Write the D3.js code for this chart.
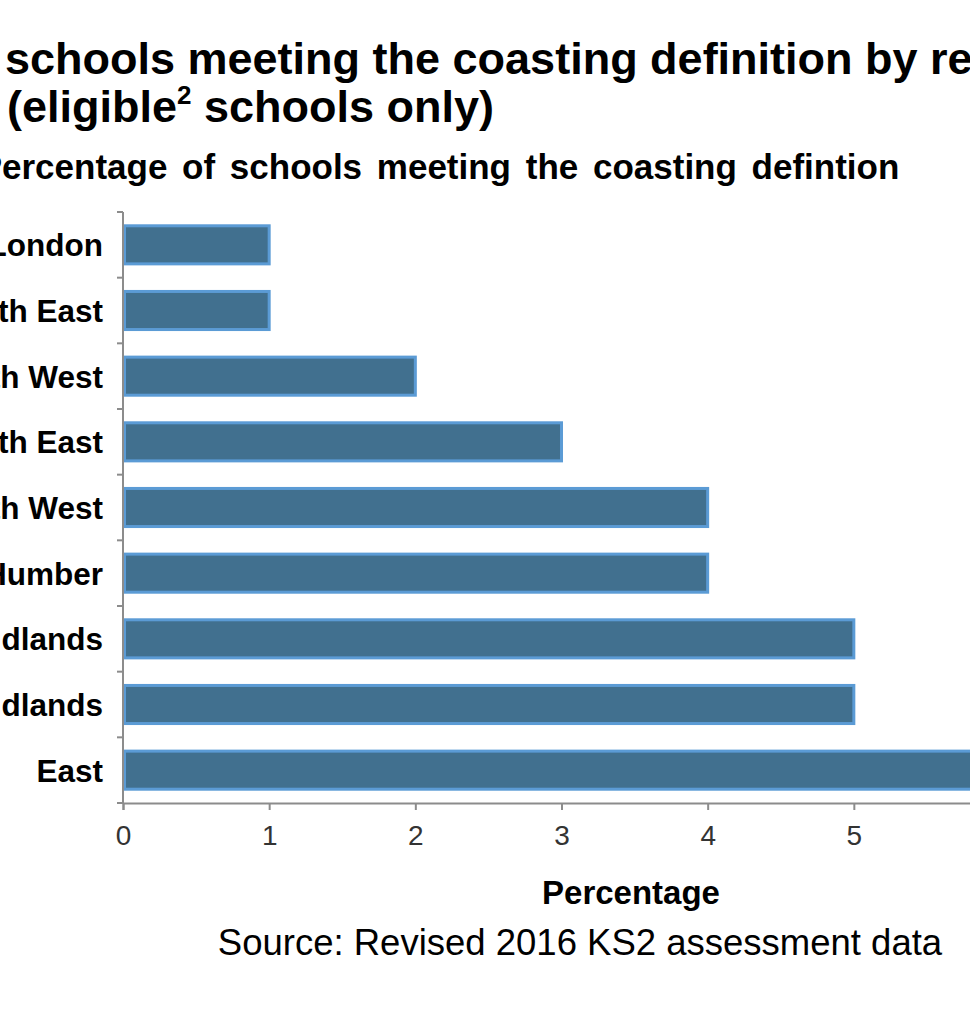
<!DOCTYPE html>
<head>
  <meta charset="utf-8">
  <script src="https://d3js.org/d3.v7.min.js"></script>
  <style>
    body { margin:0; overflow:hidden; background:#fff; }
    svg { display:block; font-family: "Liberation Sans", Arial, sans-serif; }
  </style>
</head>

<body>
  <script type='text/javascript'>
    // regions, top to bottom
    var regions = ["London", "South East", "South West", "North East", "North West",
                   "Yorkshire and the Humber", "West Midlands", "East Midlands", "East"];
    // percentage of schools meeting the coasting definition
    var values = [1, 1, 2, 3, 4, 4, 5, 5, 6];
    var xTicks = [0, 1, 2, 3, 4, 5, 6];

    var width = 970, height = 1024;

    var svg = d3.select('body').append('svg')
      .attr('width', width)
      .attr('height', height);

    // titles (the left and right of the original picture is cut off)
    svg.append('text')
      .attr('x', 5).attr('y', 74)
      .attr('font-size', 45).attr('font-weight', 'bold')
      .text('schools meeting the coasting definition by region');

    var t2 = svg.append('text')
      .attr('x', 7).attr('y', 122)
      .attr('font-size', 45).attr('font-weight', 'bold');
    t2.append('tspan').text('(eligible');
    t2.append('tspan').attr('font-size', 26).attr('dy', -18).text('2');
    t2.append('tspan').attr('dy', 18).text(' schools only)');

    var sub = svg.append('text')
      .attr('y', 179)
      .attr('font-size', 35).attr('font-weight', 'bold')
      .attr('word-spacing', 5)
      .text('Percentage of schools meeting the coasting defintion');
    // push the leading "P" off the left edge
    var pW = sub.node().getSubStringLength(0, 1);
    sub.attr('x', -pW + 2);

    // scales
    var x = d3.scaleLinear()
      .domain([0, 6])
      .range([123, 1000]);

    var y = d3.scaleBand()
      .domain(regions)
      .range([212, 803])
      .paddingInner(0.42)
      .paddingOuter(0.21);

    var step = y.step();

    // bars
    svg.selectAll('rect.bar')
      .data(values).enter().append('rect')
      .attr('class', 'bar')
      .attr('x', x(0) + 1.5)
      .attr('y', (d, i) => y(regions[i]))
      .attr('width', d => x(d) - x(0) - 1.5)
      .attr('height', y.bandwidth())
      .attr('fill', '#41708f')
      .attr('stroke', '#5b9bd5')
      .attr('stroke-width', 3);

    // y axis: line plus ticks between categories
    var yAxis = svg.append('g');
    yAxis.append('line')
      .attr('x1', x(0)).attr('x2', x(0))
      .attr('y1', 212).attr('y2', 803)
      .attr('stroke', '#8c8c8c').attr('stroke-width', 2);
    var bounds = regions.map(r => y(r) - (step - y.bandwidth()) / 2).concat([803]);
    yAxis.selectAll('line.tk')
      .data(bounds).enter().append('line')
      .attr('class', 'tk')
      .attr('x1', x(0) - 6).attr('x2', x(0))
      .attr('y1', d => d).attr('y2', d => d)
      .attr('stroke', '#8c8c8c').attr('stroke-width', 2);
    yAxis.selectAll('text')
      .data(regions).enter().append('text')
      .attr('x', 103)
      .attr('y', d => y(d) + y.bandwidth() / 2)
      .attr('dy', '0.36em')
      .attr('text-anchor', 'end')
      .attr('font-size', 31.5).attr('font-weight', 'bold')
      .text(d => d);

    // x axis
    var xAxis = d3.axisBottom(x)
      .tickValues(xTicks)
      .tickSize(7)
      .tickPadding(15)
      .tickFormat(d3.format('d'));

    var gx = svg.append('g')
      .attr('transform', 'translate(0,803)')
      .call(xAxis);
    gx.select('.domain').attr('stroke', '#8c8c8c').attr('stroke-width', 2);
    gx.selectAll('.tick line').attr('stroke', '#8c8c8c').attr('stroke-width', 2);
    gx.selectAll('.tick text')
      .attr('font-family', '"Liberation Sans", Arial, sans-serif')
      .attr('font-size', 28)
      .attr('fill', '#333');

    svg.append('text')
      .attr('x', 631).attr('y', 904)
      .attr('text-anchor', 'middle')
      .attr('font-size', 33).attr('font-weight', 'bold')
      .text('Percentage');

    svg.append('text')
      .attr('x', 580).attr('y', 955)
      .attr('text-anchor', 'middle')
      .attr('font-size', 36.5)
      .text('Source: Revised 2016 KS2 assessment data');
  </script>
</body>
